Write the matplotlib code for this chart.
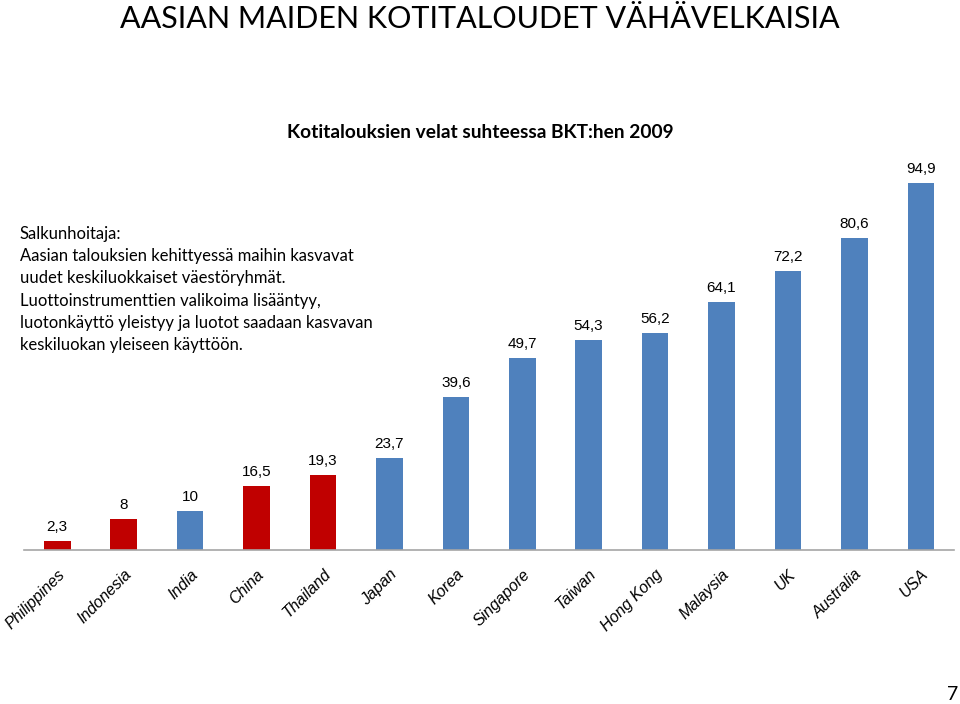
import numpy as np
import matplotlib
matplotlib.use("Agg")
import matplotlib.pyplot as plt

countries = ["Philippines", "Indonesia", "India", "China", "Thailand", "Japan", "Korea",
             "Singapore", "Taiwan", "Hong Kong", "Malaysia", "UK", "Australia", "USA"]
debt = [2.3, 8, 10, 16.5, 19.3, 23.7, 39.6, 49.7, 54.3, 56.2, 64.1, 72.2, 80.6, 94.9]
value_labels = ["2,3", "8", "10", "16,5", "19,3", "23,7", "39,6", "49,7", "54,3", "56,2",
                "64,1", "72,2", "80,6", "94,9"]
highlight = ["Philippines", "Indonesia", "China", "Thailand"]

title = "AASIAN MAIDEN KOTITALOUDET VÄHÄVELKAISIA"
subtitle = "Kotitalouksien velat suhteessa BKT:hen 2009"
note = ("Salkunhoitaja:\n"
        "Aasian talouksien kehittyessä maihin kasvavat\n"
        "uudet keskiluokkaiset väestöryhmät.\n"
        "Luottoinstrumenttien valikoima lisääntyy,\n"
        "luotonkäyttö yleistyy ja luotot saadaan kasvavan\n"
        "keskiluokan yleiseen käyttöön.")

RED = "#C00000"
BLUE = "#4F81BD"

fig = plt.figure(figsize=(9.6, 7.04), dpi=100)
ax = fig.add_axes([24 / 960, 154 / 704, 930 / 960, 387 / 704])

x = np.arange(len(countries))
colors = [RED if c in highlight else BLUE for c in countries]
ax.bar(x, debt, width=0.4, color=colors, zorder=2)

for xi, v, lab in zip(x, debt, value_labels):
    ax.annotate(lab, (xi, v), xytext=(0, 5), textcoords="offset points",
                ha="center", va="bottom", fontsize=11, family="Liberation Sans")

ax.set_xlim(-0.5, len(countries) - 0.5)
ax.set_ylim(0, 100)
for s in ["top", "right", "left"]:
    ax.spines[s].set_visible(False)
ax.spines["bottom"].set_color("#A6A6A6")
ax.spines["bottom"].set_linewidth(1.2)
ax.set_yticks([])
ax.set_xticks(x)
ax.set_xticklabels(countries, rotation=45, ha="right", rotation_mode="anchor",
                   fontsize=11.5, style="italic", family="Liberation Sans")
ax.tick_params(axis="x", length=0, pad=12)

fig.text(0.5, 1 - 19 / 704, title, ha="center", va="center", fontsize=22, family="Lato")
fig.text(0.5, 1 - 132 / 704, subtitle, ha="center", va="center", fontsize=13.8,
         family="Lato", weight="bold")
fig.text(20 / 960, 1 - 226 / 704, note, ha="left", va="top", fontsize=12,
         family="Lato", linespacing=1.48)
fig.text(958 / 960, 1 - 695 / 704, "7", ha="right", va="center", fontsize=14, family="Lato")

fig.savefig("out.png", dpi=100)
